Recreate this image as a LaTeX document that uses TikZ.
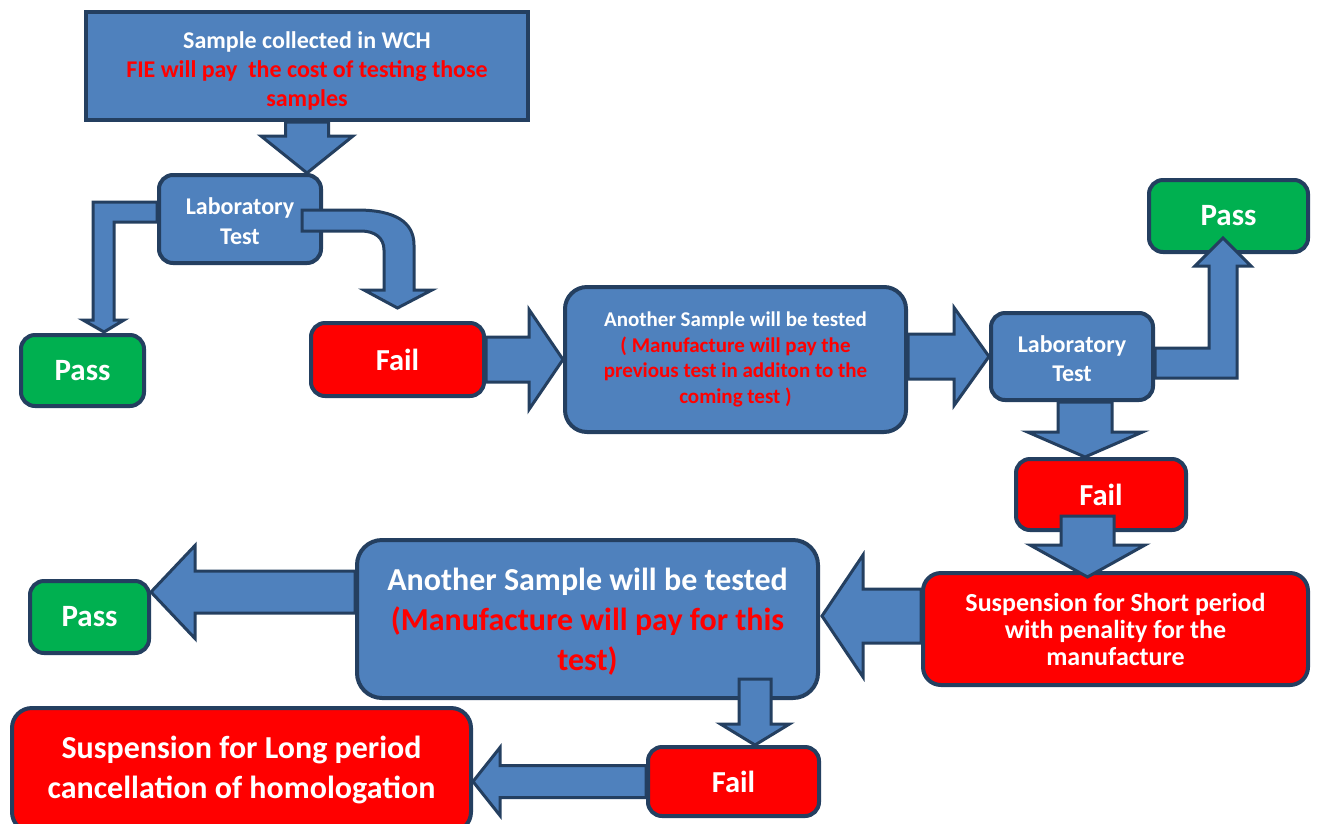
\documentclass[tikz,border=0pt]{standalone}
\usepackage{fontspec}
\setmainfont{Carlito}
\usetikzlibrary{calc}
\definecolor{bfill}{HTML}{4F81BD}
\definecolor{bline}{HTML}{243F60}
\definecolor{rfill}{HTML}{FF0000}
\definecolor{gfill}{HTML}{00B050}
\definecolor{rtext}{HTML}{FF0000}
\tikzset{
  box/.style={draw=bline, line width=4pt, rounded corners=14pt, align=center, text=white, inner sep=0pt},
  bluebox/.style={box, fill=bfill},
  redbox/.style={box, fill=rfill},
  greenbox/.style={box, fill=gfill},
  blk/.style={draw=bline, line width=3pt, fill=bfill, line join=miter},
  fs/.style 2 args={font=\bfseries\fontsize{#1}{#2}\selectfont},
}
% horizontal block arrow: start, tip, shaft half, head half, head length (signed, + = rightwards)
\newcommand\harr[5]{%
  \draw[blk] let \p1=(#1), \p2=(#2) in
    (\x1,\y2+#3) -- ({\x2-(#5)},\y2+#3) -- ({\x2-(#5)},\y2+#4) -- (\p2)
    -- ({\x2-(#5)},\y2-#4) -- ({\x2-(#5)},\y2-#3) -- (\x1,\y2-#3) -- cycle;}
% vertical block arrow: start, tip, shaft half, head half, head length (signed, + = downwards)
\newcommand\varr[5]{%
  \draw[blk] let \p1=(#1), \p2=(#2) in
    (\x2+#3,\y1) -- (\x2+#3,{\y2+(#5)}) -- (\x2+#4,{\y2+(#5)}) -- (\p2)
    -- (\x2-#4,{\y2+(#5)}) -- (\x2-#3,{\y2+(#5)}) -- (\x2-#3,\y1) -- cycle;}
\newcommand\topstrut[1]{\rule{0pt}{#1}}
\begin{document}
\begin{tikzpicture}[x=1pt,y=-1pt]
\useasboundingbox (0,0) rectangle (1317,823);
\fill[white] (0,0) rectangle (1317,823);
% boxes
\node[bluebox, sharp corners, minimum width=442pt, minimum height=108pt, fs={24}{29}] (top) at (307,66)
  {\topstrut{26pt}Sample collected in WCH\\\textcolor{rtext}{FIE will pay\ \ the cost of testing those}\\\textcolor{rtext}{samples}};
\node[bluebox, minimum width=162pt, minimum height=88pt, fs={24}{29.5}] (lab1) at (240,219) {\topstrut{21.5pt}Laboratory\\Test};
\node[greenbox, minimum width=123pt, minimum height=71pt, fs={31}{36}] (pass1) at (82.5,370.5) {Pass};
\node[redbox, minimum width=173pt, minimum height=73pt, fs={30.5}{36}] (fail1) at (397.5,359.5) {Fail};
\node[bluebox, rounded corners=22pt, minimum width=341pt, minimum height=145pt, fs={21}{25.7}] (box2) at (735.5,359.5)
  {Another Sample will be tested\\\textcolor{rtext}{( Manufacture will pay the}\\\textcolor{rtext}{previous test in additon to the}\\\textcolor{rtext}{coming test )}};
\node[bluebox, minimum width=162pt, minimum height=87pt, fs={24}{29.5}] (lab2) at (1072,356.5) {\topstrut{21.5pt}Laboratory\\Test};
\node[greenbox, minimum width=159pt, minimum height=72pt, fs={31}{36}] (pass2) at (1228.5,216) {Pass};
\node[redbox, minimum width=170pt, minimum height=71pt, fs={30.5}{36}] (fail2) at (1101,494.5) {Fail};
\node[redbox, rounded corners=18pt, minimum width=385pt, minimum height=112pt, fs={26}{27}] (susp1) at (1115.5,629)
  {Suspension for Short period\\with penality for the\\manufacture};
\node[bluebox, rounded corners=25pt, minimum width=461pt, minimum height=158pt, fs={32}{40}] (box3) at (587.5,619)
  {\topstrut{28pt}Another Sample will be tested\\\textcolor{rtext}{(Manufacture will pay for this}\\\textcolor{rtext}{test)}};
\node[greenbox, minimum width=119pt, minimum height=72pt, fs={31}{36}] (pass3) at (89.5,617) {Pass};
\node[redbox, minimum width=171pt, minimum height=69pt, fs={30.5}{36}] (fail3) at (733.5,781.5) {Fail};
\node[redbox, rounded corners=20pt, minimum width=459pt, minimum height=124pt, fs={32}{40}] (susp2) at (241.5,770)
  {Suspension for Long period\\cancellation of homologation};
% arrows
\varr{top.south}{top.south |- lab1.north}{21.5pt}{46pt}{37pt}
% lab1 -> pass1 (bent)
\draw[blk] let \p1=(lab1.west), \p2=($(pass1.north)+(21.5,-1)$) in
  (\x1,\y1+17pt) -- (\x2-11pt,\y1+17pt) -- (\x2-11pt,\y2+12pt) -- (\x2-21pt,\y2+12pt) -- (\p2)
  -- (\x2+20pt,\y2+12pt) -- (\x2+10pt,\y2+12pt) -- (\x2+10pt,\y1-3pt) -- (\x1,\y1-3pt) -- cycle;
% lab1 -> fail1 (curved)
\draw[blk] let \p1=(lab1.east), \p2=($(fail1.north)+(0,-13)$) in
  (\x1-21pt,\y1+9pt) -- (\x2-40.5pt,\y1+9pt)
  .. controls (\x2-2.5pt,\y1+9pt) and (\x2+16.5pt,\y1-3pt) .. (\x2+16.5pt,\y1-26pt)
  -- (\x2+16.5pt,\y2+18pt) -- (\x2+34.5pt,\y2+18pt) -- (\p2) -- (\x2-33.5pt,\y2+18pt)
  -- (\x2-13.5pt,\y2+18pt) -- (\x2-13.5pt,\y1-31pt)
  .. controls (\x2-13.5pt,\y1-19pt) and (\x2-22.5pt,\y1-12pt) .. (\x2-36.5pt,\y1-12pt)
  -- (\x1-21pt,\y1-12pt) -- cycle;
\harr{fail1.east}{box2.west}{22.5pt}{50pt}{34pt}
\harr{box2.east}{lab2.west}{22.5pt}{49pt}{35pt}
% lab2 -> pass2 (bent)
\draw[blk] let \p1=(lab2.east), \p2=($(pass2.south)+(-5.5,-16)$) in
  (\x1,\y1+8.5pt) -- (\x2-14pt,\y1+8.5pt) -- (\x2-14pt,\y2-28pt) -- (\x2-28pt,\y2-28pt) -- (\p2)
  -- (\x2+28pt,\y2-28pt) -- (\x2+14pt,\y2-28pt) -- (\x2+14pt,\y1-21.5pt) -- (\x1,\y1-21.5pt) -- cycle;
\varr{lab2.south}{$(fail2.north)+(-16,0)$}{27pt}{57.5pt}{25pt}
\varr{$(fail2.south)+(0,-16)$}{$(susp1.north)+(-28,6)$}{26.5pt}{57.5pt}{32pt}
\harr{susp1.west}{$(box3.east)+(2,-3)$}{27pt}{61pt}{-41pt}
\harr{box3.west}{$(pass3.east)+(0,-25)$}{21pt}{46.5pt}{-44pt}
\varr{$(box3.south)+(167.5,-21)$}{$(fail3.north)+(21.5,0)$}{16pt}{34.5pt}{21pt}
\harr{fail3.west}{susp2.east |- fail3.west}{16pt}{34pt}{-27pt}
\end{tikzpicture}
\end{document}
